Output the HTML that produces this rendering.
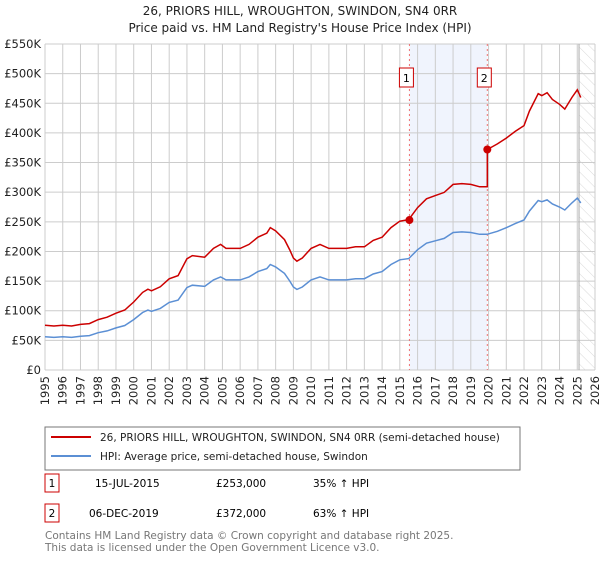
<!DOCTYPE html>
<html><head><meta charset="utf-8"><style>
body{margin:0;background:#fff;font-family:"Liberation Sans","DejaVu Sans",sans-serif;}
svg text{font-family:"DejaVu Sans","Liberation Sans",sans-serif;}
</style></head><body>
<svg id="c" width="600" height="560" viewBox="0 0 600 560" xmlns="http://www.w3.org/2000/svg">
<defs><pattern id="hatch" width="8" height="8" patternUnits="userSpaceOnUse" patternTransform="rotate(-45)"><line x1="0" y1="0" x2="0" y2="8" stroke="#d0d0d0" stroke-width="0.8"/></pattern></defs>
<text x="300" y="15" text-anchor="middle" font-size="12" fill="#222">26, PRIORS HILL, WROUGHTON, SWINDON, SN4 0RR</text>
<text x="300" y="32" text-anchor="middle" font-size="12" fill="#222">Price paid vs. HM Land Registry's House Price Index (HPI)</text>
<g id="grid"></g><g id="marks"></g><g id="axes"></g>
<rect x="45" y="427" width="475" height="43" fill="#fff" stroke="#777"/>
<line x1="51" y1="437" x2="91" y2="437" stroke="#cc0000" stroke-width="2"/>
<text x="100" y="441" font-size="10.5" fill="#222">26, PRIORS HILL, WROUGHTON, SWINDON, SN4 0RR (semi-detached house)</text>
<line x1="51" y1="456" x2="91" y2="456" stroke="#5b8fd4" stroke-width="2"/>
<text x="100" y="460" font-size="10.5" fill="#222">HPI: Average price, semi-detached house, Swindon</text>
<g>
<rect x="45" y="474" width="14" height="18" fill="#fff" stroke="#cc0000"/><text x="52" y="487" text-anchor="middle" font-size="10.5">1</text>
<text x="95" y="487" font-size="10.5">15-JUL-2015</text><text x="216" y="487" font-size="10.5">£253,000</text><text x="313" y="487" font-size="10.5">35% ↑ HPI</text></g>
<g>
<rect x="45" y="504" width="14" height="18" fill="#fff" stroke="#cc0000"/><text x="52" y="517" text-anchor="middle" font-size="10.5">2</text>
<text x="89" y="517" font-size="10.5">06-DEC-2019</text><text x="216" y="517" font-size="10.5">£372,000</text><text x="313" y="517" font-size="10.5">63% ↑ HPI</text></g>
<text x="45" y="539" font-size="10.5" fill="#777">Contains HM Land Registry data © Crown copyright and database right 2025.</text>
<text x="45" y="551" font-size="10.5" fill="#777">This data is licensed under the Open Government Licence v3.0.</text>
</svg>
<script>
const hpiYears=[1995,1995.5,1996,1996.5,1997,1997.5,1998,1998.5,1999,1999.5,2000,2000.5,2000.8,2001,2001.5,2002,2002.5,2003,2003.3,2004,2004.5,2004.9,2005.2,2006,2006.5,2007,2007.5,2007.7,2008,2008.5,2008.8,2009,2009.2,2009.5,2010,2010.5,2011,2012,2012.5,2013,2013.5,2014,2014.5,2015,2015.5,2016,2016.5,2017,2017.5,2018,2018.5,2019,2019.5,2019.92,2020.5,2021,2021.5,2022,2022.3,2022.8,2023,2023.3,2023.6,2024,2024.3,2024.7,2025,2025.2];
const hpiValues=[56,55,56,55,57,58,63,66,71,75,85,97,101,99,104,114,118,139,143,141,152,157,152,152,157,166,171,178,174,163,150,140,136,140,152,157,152,152,154,154,162,166,178,186,188,203,214,218,222,232,233,232,229,229,234,240,247,253,268,286,284,287,280,275,270,282,290,282];
const saleYears=[2015.54,2019.93];
const salePrices=[253,372];
const saleRatios=[1.35,1.63];
const yTicks=[0,50,100,150,200,250,300,350,400,450,500,550];
const xTicks=[1995,1996,1997,1998,1999,2000,2001,2002,2003,2004,2005,2006,2007,2008,2009,2010,2011,2012,2013,2014,2015,2016,2017,2018,2019,2020,2021,2022,2023,2024,2025,2026];
const X0=45,X1=595,Y0=370,Y1=44,dataEnd=2025.1;
const sx=y=>X0+(y-1995)/(2026-1995)*(X1-X0);
const sy=v=>Y0-v/550*(Y0-Y1);
const NS='http://www.w3.org/2000/svg';
function mk(p,t,a){const e=document.createElementNS(NS,t);for(const k in a)e.setAttribute(k,a[k]);p.appendChild(e);return e;}
const g=document.getElementById('grid'),m=document.getElementById('marks'),ax=document.getElementById('axes');
const shade=mk(g,'rect',{x:sx(saleYears[0]),y:Y1,width:sx(saleYears[1])-sx(saleYears[0]),height:Y0-Y1,fill:'#f0f4fd'});


yTicks.forEach(v=>{mk(g,'line',{x1:X0,x2:X1,y1:sy(v),y2:sy(v),stroke:'#ccc'});
const t=mk(ax,'text',{x:X0-4,y:sy(v)+4,'text-anchor':'end','font-size':11.5,fill:'#222'});t.textContent=v===0?'£0':'£'+v+'K';

});
xTicks.forEach(y=>{mk(g,'line',{x1:sx(y),x2:sx(y),y1:Y1,y2:Y0,stroke:'#ccc'});
const t=mk(ax,'text',{x:0,y:0,'text-anchor':'end','font-size':11.5,fill:'#222',transform:`translate(${sx(y)+4},${Y0+6}) rotate(-90)`});t.textContent=y;

});
const h=mk(g,'rect',{x:sx(dataEnd),y:Y1,width:X1-sx(dataEnd),height:Y0-Y1,fill:'url(#hatch)'});


mk(g,'line',{x1:sx(dataEnd),x2:sx(dataEnd),y1:Y1,y2:Y0,stroke:'#aaa'});
saleYears.forEach((y,i)=>{const l=mk(m,'line',{x1:sx(y),x2:sx(y),y1:Y1,y2:Y0,stroke:'#f07070','stroke-dasharray':'2,3'});


const b=mk(m,'g',{});


mk(b,'rect',{x:sx(y)-10,y:68,width:14,height:19,fill:'#fff',stroke:'#cc0000'});
const t=mk(b,'text',{x:sx(y)-3,y:82,'text-anchor':'middle','font-size':11});t.textContent=i+1;});
const hp=hpiYears.map((y,i)=>sx(y).toFixed(1)+','+sy(hpiValues[i]).toFixed(1)).join(' ');
const hl=mk(m,'polyline',{points:hp,fill:'none',stroke:'#5b8fd4','stroke-width':1.5});


const rp=[];
hpiYears.forEach((y,i)=>{const r=y<saleYears[1]?saleRatios[0]:saleRatios[1];
if(y>=saleYears[1]&&rp.length&&!rp.done){rp.push(sx(saleYears[1])+','+sy(hpiValues[i-1]*saleRatios[0]));rp.push(sx(saleYears[1])+','+sy(salePrices[1]));rp.done=1;}
rp.push(sx(y).toFixed(1)+','+sy(hpiValues[i]*r).toFixed(1));});
const rl=mk(m,'polyline',{points:rp.join(' '),fill:'none',stroke:'#cc0000','stroke-width':1.5});


saleYears.forEach((y,i)=>{const c=mk(m,'circle',{cx:sx(y),cy:sy(salePrices[i]),r:4,fill:'#cc0000'});

});
</script>
</body></html>
